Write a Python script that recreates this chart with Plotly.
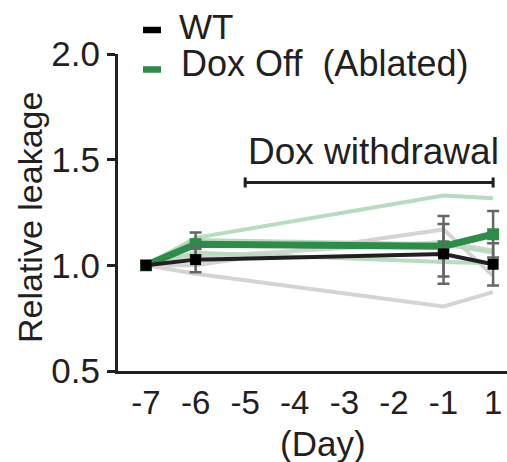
import plotly.graph_objects as go

# Day axis (categorical) and the days that were actually measured
day_labels = ["-7", "-6", "-5", "-4", "-3", "-2", "-1", "1"]
sample_days = ["-7", "-6", "-1", "1"]

# Group means and SEM
wt_mean = [1.0, 1.027, 1.054, 1.005]
wt_sem = [0.0, 0.06, 0.141, 0.10]
dox_mean = [1.0, 1.10, 1.09, 1.147]
dox_sem = [0.0, 0.055, 0.143, 0.11]

# Individual animals
wt_individual = [
    [1.0, 0.96, 0.805, 0.873],
    [1.0, 1.00, 1.17, 0.95],
    [1.0, 1.04, 1.11, 1.07],
]
dox_individual = [
    [1.0, 1.13, 1.33, 1.318],
    [1.0, 1.06, 1.016, 1.01],
    [1.0, 1.12, 1.10, 1.06],
]

INK = "#231f20"
GREEN = "#2e8b4a"
FONT = "Arial, Liberation Sans, sans-serif"

# plot-area geometry in pixels (used to place paper-anchored labels)
L, T, W, H = 118, 54, 389, 317
def px(xp):
    return (xp - L) / W
def py(yp):
    return (T + H - yp) / H

fig = go.Figure()

for ys in wt_individual:
    fig.add_trace(go.Scatter(x=sample_days, y=ys, mode="lines",
                             line=dict(color="#d4d4d4", width=4),
                             showlegend=False, hoverinfo="skip"))
for ys in dox_individual:
    fig.add_trace(go.Scatter(x=sample_days, y=ys, mode="lines",
                             line=dict(color="#b9dcc1", width=4),
                             showlegend=False, hoverinfo="skip"))

err_style = dict(type="data", visible=True, color="#666666", thickness=2.5, width=6)

fig.add_trace(go.Scatter(
    x=sample_days, y=dox_mean, mode="lines+markers",
    line=dict(color=GREEN, width=7),
    marker=dict(symbol="square", size=12, color=GREEN),
    error_y=dict(array=dox_sem, **err_style),
    showlegend=False))

fig.add_trace(go.Scatter(
    x=sample_days, y=wt_mean, mode="lines+markers",
    line=dict(color=INK, width=4),
    marker=dict(symbol="square", size=11, color="#000000"),
    error_y=dict(array=wt_sem, **err_style),
    showlegend=False))

# Dox withdrawal bracket (from day -5 to day 1)
bracket_y = 1.392
cap = 0.024
x_start = day_labels.index("-5")
x_end = day_labels.index("1")
fig.add_shape(type="line", xref="x", yref="y", x0=x_start, x1=x_end,
              y0=bracket_y, y1=bracket_y, line=dict(color=INK, width=3))
for xe in (x_start, x_end):
    fig.add_shape(type="line", xref="x", yref="y", x0=xe, x1=xe,
                  y0=bracket_y - cap, y1=bracket_y + cap, line=dict(color=INK, width=3))
fig.add_annotation(text="Dox withdrawal", xref="paper", yref="paper",
                   x=px(373.5), y=py(151), xanchor="center", yanchor="middle",
                   showarrow=False, font=dict(family=FONT, size=37, color=INK))

# Legend drawn as short bars with labels
legend_rows = [("WT", "#000000", 30, 26.5, 177, 35),
               ("Dox Off\u00a0 (Ablated)", GREEN, 69.5, 63.7, 179, 36)]
for label, color, bar_px, text_px, text_x, size in legend_rows:
    fig.add_shape(type="line", xref="paper", yref="paper",
                  x0=px(143), x1=px(161), y0=py(bar_px), y1=py(bar_px),
                  line=dict(color=color, width=6.5))
    fig.add_annotation(text=label, xref="paper", yref="paper",
                       x=px(text_x), y=py(text_px),
                       xanchor="left", yanchor="middle", showarrow=False,
                       font=dict(family=FONT, size=size, color=INK))

# Axis titles
fig.add_annotation(text="Relative leakage", xref="paper", yref="paper",
                   x=0, xshift=-(L - 30), y=py(218), textangle=-90,
                   xanchor="center", yanchor="middle", showarrow=False,
                   font=dict(family=FONT, size=34, color=INK))
fig.add_annotation(text="(Day)", xref="paper", yref="paper",
                   x=px(323), y=py(443),
                   xanchor="center", yanchor="middle", showarrow=False,
                   font=dict(family=FONT, size=35, color=INK))

fig.update_xaxes(type="category", categoryorder="array", categoryarray=day_labels,
                 range=[-0.565, 7.28], showline=True, linecolor=INK, linewidth=3,
                 ticks="", showgrid=False, zeroline=False,
                 tickfont=dict(family=FONT, size=33, color=INK),
                 ticklabelstandoff=0)
fig.update_yaxes(range=[0.5, 2.0], tickvals=[0.5, 1.0, 1.5, 2.0],
                 ticktext=["0.5", "1.0", "1.5", "2.0"],
                 showline=True, linecolor=INK, linewidth=3,
                 ticks="outside", ticklen=8, tickwidth=3, tickcolor=INK,
                 showgrid=False, zeroline=False,
                 tickfont=dict(family=FONT, size=35, color=INK))

fig.update_layout(width=507, height=462,
                  margin=dict(l=L, r=507 - L - W, t=T, b=462 - T - H),
                  paper_bgcolor="white", plot_bgcolor="white",
                  showlegend=False)

fig.write_html("out.html")
